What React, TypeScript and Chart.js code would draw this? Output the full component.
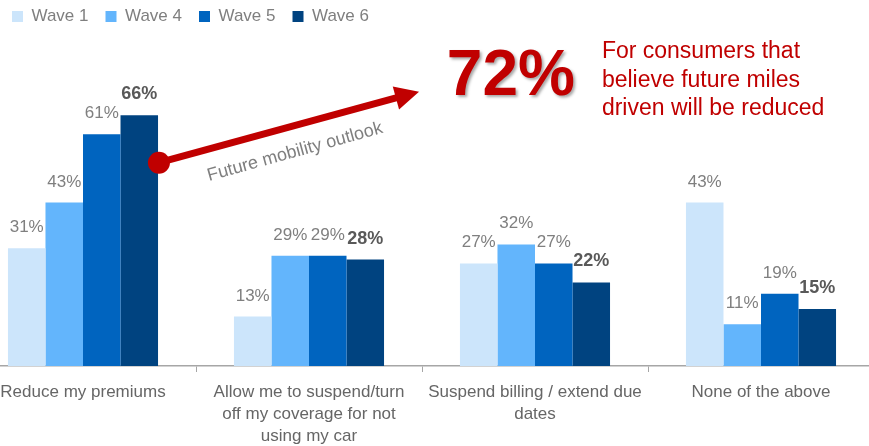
import React, { useEffect, useRef } from "react";
import { Chart, registerables } from "chart.js";

Chart.register(...registerables);

const categories: (string | string[])[] = [
  "Reduce my premiums",
  ["Allow me to suspend/turn", "off my coverage for not", "using my car"],
  ["Suspend billing / extend due", "dates"],
  "None of the above",
];
const seriesNames = ["Wave 1", "Wave 4", "Wave 5", "Wave 6"];
const wave1 = [31, 13, 27, 43];
const wave4 = [43, 29, 32, 11];
const wave5 = [61, 29, 27, 19];
const wave6 = [66, 28, 22, 15];
const seriesColors = ["#CCE5FB", "#63B5FC", "#0064BF", "#004380"];

const calloutValue = "72%";
const calloutLines = ["For consumers that", "believe future miles", "driven will be reduced"];
const arrowLabel = "Future mobility outlook";

const FONT = "'Liberation Sans', Arial, Helvetica, sans-serif";
const RED = "#C00000";

const legendShift = {
  id: "legendShift",
  afterLayout(chart: any) {
    const lg = chart.legend;
    if (!lg) return;
    const w = lg.width;
    const h = lg.height;
    lg.left = 25;
    lg.right = 25 + w;
    lg.top = -9;
    lg.bottom = -9 + h;
  },
};

const valueLabels = {
  id: "valueLabels",
  afterDatasetsDraw(chart: any) {
    const ctx = chart.ctx;
    ctx.save();
    ctx.textAlign = "center";
    ctx.textBaseline = "alphabetic";
    const n = chart.data.datasets.length;
    chart.data.datasets.forEach((ds: any, di: number) => {
      const meta = chart.getDatasetMeta(di);
      const last = di === n - 1;
      ctx.font = last ? `bold 18px ${FONT}` : `17px ${FONT}`;
      ctx.fillStyle = last ? "#595959" : "#7F7F7F";
      meta.data.forEach((bar: any, i: number) => {
        ctx.fillText(`${ds.data[i]}%`, bar.x, bar.y - 16);
      });
    });
    ctx.restore();
  },
};

const annotation = {
  id: "annotation",
  afterDraw(chart: any) {
    const { ctx } = chart;
    const x = chart.scales.x;
    const y = chart.scales.y;
    const sx = x.getPixelForValue(0.336);
    const sy = y.getPixelForValue(53.5);
    const ex = x.getPixelForValue(1.487);
    const ey = y.getPixelForValue(72.2);
    const ang = Math.atan2(ey - sy, ex - sx);
    const cos = Math.cos(ang);
    const sin = Math.sin(ang);
    const headLen = 24;
    const headHalf = 12;
    const bx = ex - headLen * cos;
    const by = ey - headLen * sin;

    ctx.save();
    ctx.strokeStyle = RED;
    ctx.fillStyle = RED;
    ctx.lineWidth = 7;
    ctx.beginPath();
    ctx.moveTo(sx, sy);
    ctx.lineTo(bx + 2 * cos, by + 2 * sin);
    ctx.stroke();
    ctx.beginPath();
    ctx.moveTo(ex, ey);
    ctx.lineTo(bx - headHalf * sin, by + headHalf * cos);
    ctx.lineTo(bx + headHalf * sin, by - headHalf * cos);
    ctx.closePath();
    ctx.fill();
    ctx.beginPath();
    ctx.arc(sx, sy, 11, 0, Math.PI * 2);
    ctx.fill();

    // rotated label under arrow
    ctx.save();
    ctx.translate(x.getPixelForValue(0.938), y.getPixelForValue(56.3));
    ctx.rotate((-15.5 * Math.PI) / 180);
    ctx.font = `18px ${FONT}`;
    ctx.fillStyle = "#7F7F7F";
    ctx.textAlign = "center";
    ctx.textBaseline = "middle";
    ctx.fillText(arrowLabel, 0, 0);
    ctx.restore();

    // big callout value
    ctx.save();
    ctx.font = `bold 64px ${FONT}`;
    ctx.fillStyle = RED;
    ctx.textAlign = "left";
    ctx.textBaseline = "alphabetic";
    ctx.shadowColor = "rgba(0,0,0,0.35)";
    ctx.shadowOffsetX = 2;
    ctx.shadowOffsetY = 2;
    ctx.shadowBlur = 3;
    ctx.fillText(calloutValue, x.getPixelForValue(1.61), y.getPixelForValue(71.3));
    ctx.restore();

    // callout text
    ctx.font = `23px ${FONT}`;
    ctx.fillStyle = RED;
    ctx.textAlign = "left";
    ctx.textBaseline = "alphabetic";
    const tx = x.getPixelForValue(2.296);
    const ty = y.getPixelForValue(81.05);
    calloutLines.forEach((line, i) => ctx.fillText(line, tx, ty + i * 28.5));
    ctx.restore();
  },
};

export default function App() {
  const ref = useRef<HTMLCanvasElement>(null);
  useEffect(() => {
    if (!ref.current) return;
    const seriesValues = [wave1, wave4, wave5, wave6];
    const chart = new Chart(ref.current, {
      type: "bar",
      data: {
        labels: categories as any,
        datasets: seriesNames.map((name, i) => ({
          label: name,
          data: seriesValues[i],
          backgroundColor: seriesColors[i],
          borderWidth: 0,
          categoryPercentage: 0.664,
          barPercentage: 1,
        })),
      },
      options: {
        responsive: false,
        animation: false,
        devicePixelRatio: 1,
        layout: { padding: { top: 18, left: 0, right: 0, bottom: 0 } },
        plugins: {
          legend: {
            position: "top",
            align: "start",
            labels: {
              boxWidth: 11,
              boxHeight: 11,
              padding: 17,
              color: "#7F7F7F",
              font: { family: FONT, size: 17 },
            },
          },
          tooltip: { enabled: false },
        },
        scales: {
          x: {
            grid: {
              display: true,
              drawOnChartArea: false,
              drawTicks: true,
              tickLength: 6,
              color: "#A6A6A6",
              offset: true,
            },
            border: { display: true, color: "#A6A6A6", width: 1.5 },
            ticks: {
              color: "#666666",
              font: { family: FONT, size: 17, lineHeight: 1.3 },
              padding: 9,
              maxRotation: 0,
              minRotation: 0,
              autoSkip: false,
            },
            afterFit: (s: any) => {
              s.height = 80;
            },
          },
          y: { display: false, min: 0, max: 80 },
        },
      },
      plugins: [legendShift, valueLabels, annotation],
    });
    return () => chart.destroy();
  }, []);
  return (
    <div
      style={{
        position: "fixed",
        left: 0,
        top: 0,
        width: 869,
        height: 446,
        overflow: "hidden",
        background: "#ffffff",
      }}
    >
      <canvas
        ref={ref}
        width={904}
        height={446}
        style={{ position: "absolute", left: -30, top: 0, width: 904, height: 446 }}
      />
    </div>
  );
}
